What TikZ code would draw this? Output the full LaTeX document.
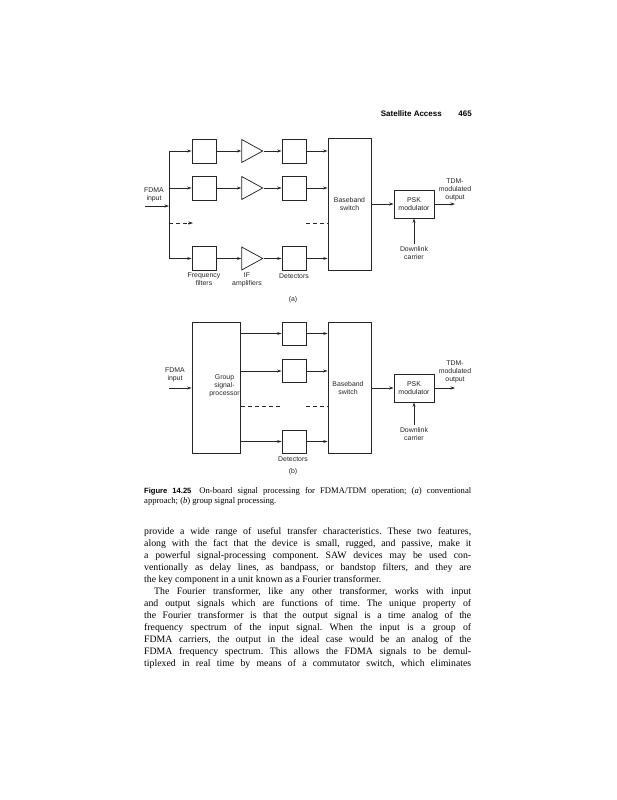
\documentclass[tikz,border=0pt]{standalone}
\usepackage{fontspec}
\setmainfont{Liberation Serif}
\setsansfont{Liberation Sans}
\usetikzlibrary{shapes.geometric,arrows.meta,calc}
\frenchspacing
\begin{document}
\begin{tikzpicture}[x=1pt,y=-1pt,
  ln/.style={line width=0.75pt,draw=black!85},
  arr/.style={ln,-{Stealth[length=4.5pt,width=3pt]}},
  dsh/.style={ln,dash pattern=on 4pt off 3pt},
  blk/.style={ln,rectangle,minimum width=24pt,minimum height=24pt,inner sep=0pt},
  amp/.style={ln,isosceles triangle,isosceles triangle stretches,minimum width=23pt,minimum height=21pt,inner sep=0pt},
  lbl/.style={font=\sffamily\fontsize{6.9}{8}\selectfont,align=center,inner sep=0pt,text=black!85},
  bodytxt/.style={anchor=base west,inner sep=0pt,font=\fontsize{9.8}{12}\selectfont},
  captxt/.style={anchor=base west,inner sep=0pt,font=\fontsize{8.6}{10}\selectfont}
]
\useasboundingbox (0,0) rectangle (617,800);
\fill[white] (0,0) rectangle (617,800);

% header
\node[anchor=base east,inner sep=0pt,font=\sffamily\bfseries\fontsize{8}{9}\selectfont] (hdr) at (442,116) {Satellite Access};
\node[anchor=base east,inner sep=0pt,font=\sffamily\bfseries\fontsize{8}{9}\selectfont] (pg) at (472,116) {465};

% ================= (a)
\coordinate (ain) at (145,206);
\coordinate (bin) at (169,206);
\coordinate (bT) at (169,151);
\coordinate (bM) at (169,188);
\coordinate (bB) at (169,258.5);
\coordinate (bD) at (169,223);
\coordinate (dE) at (193,223);
\coordinate (dE0) at (188,223);
\coordinate (dS) at (306,223);

\node[blk] (f1) at (204,151) {};
\node[blk] (f2) at (204,188) {};
\node[blk] (f3) at (204,258.5) {};
\node[amp] (a1) at (248.5,151) {};
\node[amp] (a2) at (248.5,188) {};
\node[amp] (a3) at (248.5,258.5) {};
\node[blk] (d1) at (294,151) {};
\node[blk] (d2) at (294,188) {};
\node[blk] (d3) at (294,258.5) {};
\node[ln,rectangle,minimum width=43pt,minimum height=132pt,inner sep=0pt] (sw) at (349.5,204) {};
\node[lbl] at (349.5,204.5) {Baseband\\switch};
\node[ln,rectangle,minimum width=40pt,minimum height=28pt,inner sep=0pt,lbl,font=\sffamily\fontsize{7}{8}\selectfont] (psk) at (414,204) {PSK\\modulator};
\coordinate (out) at (455,204);
\coordinate (dl) at (414,244);

\draw[arr] (ain) -- (bin);
\draw[ln] (bT) -- (bB);
\foreach \i/\b in {1/bT,2/bM,3/bB}{
  \draw[arr] (\b) -- (f\i);
  \draw[arr] (f\i) -- (a\i);
  \draw[arr] (a\i) -- (d\i);
  \draw[arr] (d\i) -- (d\i -| sw.west);
}
\draw[dsh] (bD) -- (dE0);
\draw[arr] (dE0) -- (dE);
\draw[dsh] (dS) -- (dS -| sw.west);
\draw[arr] (sw.east |- psk.west) -- (psk.west);
\draw[arr] (psk.east) -- (out);
\draw[arr] (dl) -- (psk.south);

\node[lbl] (lfa) at (154,195) {FDMA\\input};
\node[lbl] (ltdm) at (455,190) {TDM-\\modulated\\output};
\node[lbl] (ldl) at (414,253) {Downlink\\carrier};
\node[lbl] (lff) at (204,279.5) {Frequency\\filters};
\node[lbl] (lif) at (247,279.5) {IF\\amplifiers};
\node[lbl] (ldt) at (294,276.5) {Detectors};
\node[lbl] (la) at (293,300) {(a)};

% ================= (b)
\node[ln,rectangle,minimum width=48pt,minimum height=131pt,inner sep=0pt] (gsp) at (216,387.5) {};
\node[lbl] at (224.5,386) {Group\\signal-\\processor};
\node[blk,minimum height=23pt] (e1) at (294,333.5) {};
\node[blk,minimum height=23pt] (e2) at (294,371) {};
\node[blk,minimum height=23pt] (e3) at (294,441.5) {};
\node[ln,rectangle,minimum width=43pt,minimum height=131pt,inner sep=0pt] (sw2) at (349.5,387.5) {};
\node[lbl] at (348,388.5) {Baseband\\switch};
\node[ln,rectangle,minimum width=40pt,minimum height=28pt,inner sep=0pt,lbl,font=\sffamily\fontsize{7}{8}\selectfont] (psk2) at (414,388) {PSK\\modulator};
\coordinate (bin2) at (169,388);
\coordinate (out2) at (455,388);
\coordinate (dl2) at (414,425);
\coordinate (g1) at (241,406);
\coordinate (g2) at (282,406);
\coordinate (g3) at (306,406);

\draw[arr] (bin2) -- (gsp.west |- bin2);
\foreach \i in {1,2,3}{
  \draw[arr] (e\i -| gsp.east) -- (e\i);
  \draw[arr] (e\i) -- (e\i -| sw2.west);
}
\draw[dsh] (g1) -- (g2);
\draw[dsh] (g3) -- (g3 -| sw2.west);
\draw[arr] (sw2.east |- psk2.west) -- (psk2.west);
\draw[arr] (psk2.east) -- (out2);
\draw[arr] (dl2) -- (psk2.south);

\node[lbl] (lfb) at (175,374.5) {FDMA\\input};
\node[lbl] (ltdm2) at (455,372) {TDM-\\modulated\\output};
\node[lbl] (ldl2) at (414,434) {Downlink\\carrier};
\node[lbl] (ldt2) at (293,459) {Detectors};
\node[lbl] (lb) at (293,472) {(b)};

% ================= caption
\node[captxt] (c1) at (144,493) {\hbox to 327pt{{\sffamily\bfseries\fontsize{7.6}{9}\selectfont Figure 14.25}\hskip 8pt On-board signal processing for FDMA/TDM operation; (\textit{a}) conventional}};
\node[captxt] (c2) at (144,503.5) {approach; (\textit{b}) group signal processing.};

% ================= body text
\node[bodytxt] (t1) at (144,534.0) {\hbox to 327pt{provide a wide range of useful transfer characteristics. These two features,}};
\node[bodytxt] (t2) at (144,546.0) {\hbox to 327pt{along with the fact that the device is small, rugged, and passive, make it}};
\node[bodytxt] (t3) at (144,558.1) {\hbox to 327pt{a powerful signal-processing component. SAW devices may be used con-}};
\node[bodytxt] (t4) at (144,570.1) {\hbox to 327pt{ventionally as delay lines, as bandpass, or bandstop filters, and they are}};
\node[bodytxt] (t5) at (144,582.2) {the key component in a unit known as a Fourier transformer.};
\node[bodytxt] (t6) at (144,594.2) {\hbox to 327pt{\hskip 10pt The Fourier transformer, like any other transformer, works with input}};
\node[bodytxt] (t7) at (144,606.3) {\hbox to 327pt{and output signals which are functions of time. The unique property of}};
\node[bodytxt] (t8) at (144,618.3) {\hbox to 327pt{the Fourier transformer is that the output signal is a time analog of the}};
\node[bodytxt] (t9) at (144,630.4) {\hbox to 327pt{frequency spectrum of the input signal. When the input is a group of}};
\node[bodytxt] (t10) at (144,642.4) {\hbox to 327pt{FDMA carriers, the output in the ideal case would be an analog of the}};
\node[bodytxt] (t11) at (144,654.5) {\hbox to 327pt{FDMA frequency spectrum. This allows the FDMA signals to be demul-}};
\node[bodytxt] (t12) at (144,666.5) {\hbox to 327pt{tiplexed in real time by means of a commutator switch, which eliminates}};
\end{tikzpicture}
\end{document}
